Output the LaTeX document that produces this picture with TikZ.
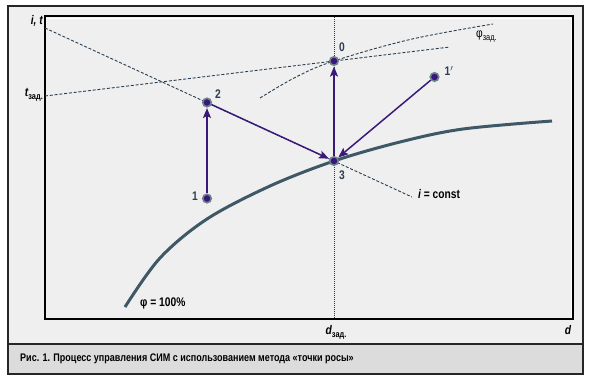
\documentclass[tikz,border=0pt]{standalone}
\usepackage{fontspec}
\setmainfont{Liberation Sans}[FakeStretch=0.82]
\usetikzlibrary{arrows.meta}
\definecolor{bgin}{HTML}{EFEFEF}
\definecolor{capbg}{HTML}{DCDCDC}
\definecolor{slate}{HTML}{2B3F50}
\definecolor{curvec}{HTML}{3F5866}
\definecolor{ptfill}{HTML}{3A1580}
\definecolor{ptring}{HTML}{6F8585}
\definecolor{arrc}{HTML}{3A1A78}
\tikzset{
  pt/.style={circle, fill=ptfill, draw=ptring, line width=1.6pt, inner sep=0pt, minimum size=8.5pt},
  arr/.style={draw=arrc, line width=1.5pt, -{Stealth[length=10pt, width=8pt, inset=2pt]}, shorten >=0.5pt},
  dsh/.style={draw=slate, line width=0.9pt, dash pattern=on 3pt off 1.8pt},
  dot/.style={draw=slate, line width=0.8pt, dash pattern=on 1pt off 1pt},
  lbl/.style={inner sep=0pt, font=\fontsize{12.5}{14}\selectfont\bfseries, text=black},
  num/.style={inner sep=0pt, font=\fontsize{12.5}{14}\selectfont\bfseries, text=slate},
}
\begin{document}
\begin{tikzpicture}[x=1pt, y=-1pt]
\useasboundingbox (0,0) rectangle (600,380);
\fill[white] (0,0) rectangle (600,380);
% outer frame
\fill[bgin] (8,6) rectangle (583,374);
\fill[capbg] (8,344) rectangle (583,374);
\draw[black!85, line width=1.3pt] (8,6) rectangle (583,374);
\draw[black!85, line width=1.2pt] (8,344) -- (583,344);
% plot area
\draw[black, line width=1.3pt] (45,16) rectangle (573,319);
\draw[white, line width=0.8pt] (46,18) -- (571.5,18) -- (571.5,318);
% coordinates
\coordinate (ia) at (45,28);
\coordinate (ib) at (412,197);
\coordinate (ta) at (45,96);
\coordinate (tb) at (450,47);
\coordinate (vt) at (334,16.7);
\coordinate (vb) at (334,318.3);
% vertical dotted
\draw[dot] (vt) -- (vb);
% dashed lines
\draw[dsh] (ia) -- (ib);
\draw[dsh] (ta) -- (tb);
\draw[dsh] plot[smooth, tension=0.6] coordinates {(260,98) (296,77) (334,61) (410,39.5) (493,24)};
% saturation curve
\draw[curvec, line width=3pt] plot[smooth, tension=0.55] coordinates {(125,307) (160,258) (207,219) (270,186) (334,161) (400,142) (463,129) (552,121)};
% points
\node[pt] (p0) at (334,61) {};
\node[pt] (p1) at (207,198.5) {};
\node[pt] (p2) at (207,102.5) {};
\node[pt] (p3) at (334,161) {};
\node[pt] (p1p) at (434.5,77) {};
% arrows
\draw[arr] (p1) -- (p2);
\draw[arr] (p2) -- (p3);
\draw[arr] (p3) -- (p0);
\draw[arr] (p1p) -- (p3);
% point labels
\node[num] (l0) at (342,47) {0};
\node[num] (l1) at (195,196) {1};
\node[num] (l2) at (218,94) {2};
\node[num] (l3) at (342,175) {3};
\node[num] (l1p) at (449,71) {1$'$};
% axis labels
\node[lbl, anchor=east] (lit) at (43,21) {\itshape i, t};
\node[lbl, anchor=east] (ltz) at (43,95) {\itshape t\normalfont\bfseries\raisebox{-3pt}{\fontsize{9}{10}\selectfont зад.}};
\node[lbl] (ldz) at (336,332) {\itshape d\normalfont\bfseries\raisebox{-3pt}{\fontsize{9}{10}\selectfont зад.}};
\node[lbl] (ld) at (568,330) {\itshape d};
\node[lbl, anchor=west] (lphi) at (140,303) {φ = 100\%};
\node[lbl, anchor=west] (lphz) at (476,37) {\normalfont φ\raisebox{-3pt}{\fontsize{9}{10}\selectfont зад.}};
\node[lbl, anchor=west] (lic) at (418,194) {\itshape i\normalfont\bfseries{} = const};
% caption
\node[lbl, anchor=west, font=\fontsize{11}{12}\selectfont\bfseries] (cap) at (20,359) {Рис. 1. Процесс управления СИМ с использованием метода «точки росы»};
\end{tikzpicture}
\end{document}
